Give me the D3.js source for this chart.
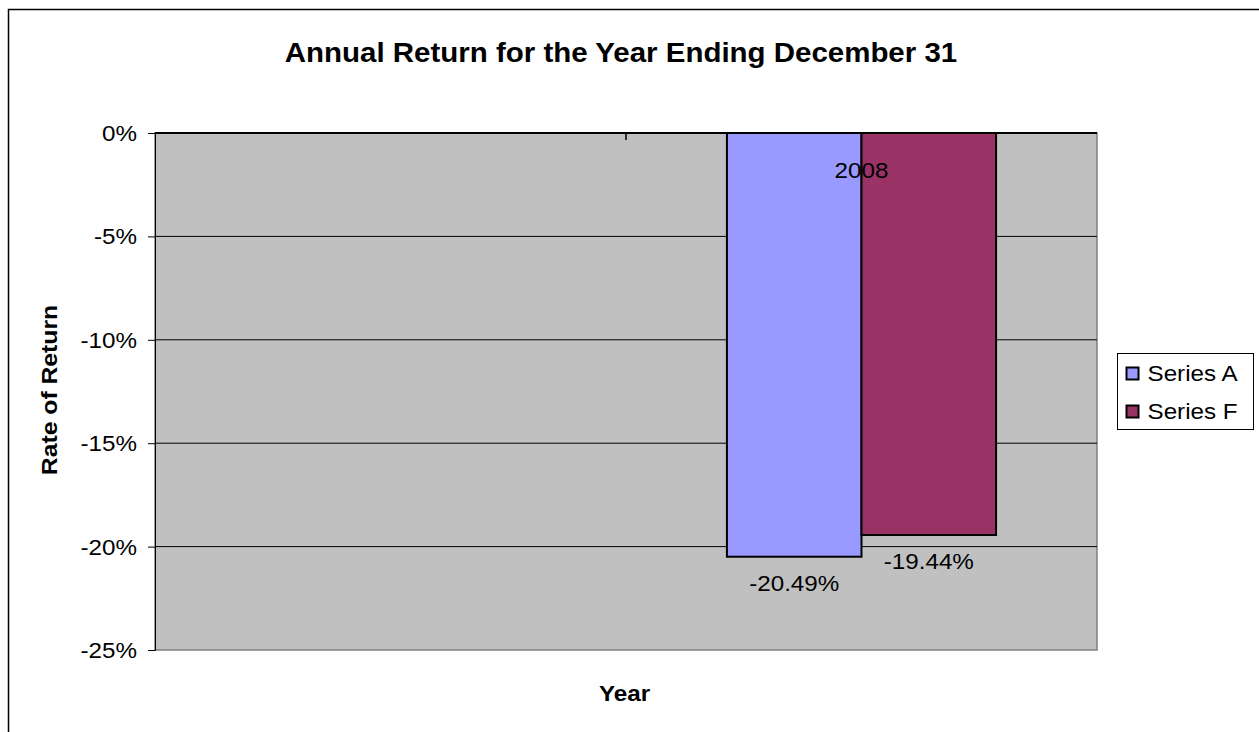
<!DOCTYPE html>
<html>
<head>
<meta charset="utf-8">
<script src="https://cdn.jsdelivr.net/npm/d3@7"></script>
<style>
  body { margin: 0; background: #fff; }
  text { font-family: "Liberation Sans", Arial, sans-serif; fill: #000; }
</style>
</head>
<body>
<script>
// chart data
const categories = ["", "2008"];
const seriesNames = ["Series A", "Series F"];
const seriesColors = ["#9999ff", "#993366"];
const seriesA = [null, -20.49];
const seriesF = [null, -19.44];
const yTicks = [0, -5, -10, -15, -20, -25];

const width = 1259, height = 732;
const plot = {left: 155, top: 133, right: 1097, bottom: 650};
const sx = 1.1; // text in the original is a bit stretched sideways

const svg = d3.select("body").append("svg")
    .attr("width", width)
    .attr("height", height);

svg.append("rect").attr("width", width).attr("height", height).attr("fill", "#fff");

// outer chart border (only top and left visible)
svg.append("rect")
    .attr("x", 8.5).attr("y", 9.5)
    .attr("width", width + 20).attr("height", height + 20)
    .attr("fill", "none").attr("stroke", "#000").attr("stroke-width", 1.5);

const x0 = d3.scaleBand().domain(categories).range([plot.left, plot.right]);
// gap width 150% -> bars take 2/3.5 of the band
const gap = x0.bandwidth() * 1.5 / 3.5;
const x1 = d3.scaleBand().domain(seriesNames).range([gap / 2, x0.bandwidth() - gap / 2]);
const y = d3.scaleLinear().domain([0, -25]).range([plot.top, plot.bottom]);

function stretchText(g, x, yy, str, size, weight, anchor) {
    return g.append("text")
        .attr("transform", `translate(${x},${yy}) scale(${sx},1)`)
        .attr("text-anchor", anchor || "middle")
        .attr("font-size", size)
        .attr("font-weight", weight || "normal")
        .text(str);
}

// plot area
svg.append("rect")
    .attr("x", plot.left).attr("y", plot.top)
    .attr("width", plot.right - plot.left).attr("height", plot.bottom - plot.top)
    .attr("fill", "#c0c0c0").attr("stroke", "#808080").attr("stroke-width", 1.5);

// gridlines
svg.append("g").selectAll("line")
    .data(yTicks.slice(1, -1))
    .join("line")
    .attr("x1", plot.left).attr("x2", plot.right)
    .attr("y1", d => y(d)).attr("y2", d => y(d))
    .attr("stroke", "#000").attr("stroke-width", 1);

// y axis
const yAxis = svg.append("g")
    .attr("transform", `translate(${plot.left},0)`)
    .call(d3.axisLeft(y).tickValues(yTicks).tickSize(7).tickFormat(""));
yAxis.select(".domain").attr("stroke", "#000");
yAxis.selectAll(".tick line").attr("stroke", "#000");
yAxis.selectAll(".tick").each(function (d) {
    stretchText(d3.select(this), -18, 7.5, d + "%", 22, "normal", "end");
});

// bars
const barData = [];
categories.forEach((c, i) => {
    [seriesA, seriesF].forEach((s, j) => {
        if (s[i] !== null) barData.push({cat: c, name: seriesNames[j], value: s[i], color: seriesColors[j]});
    });
});

svg.append("g").selectAll("rect")
    .data(barData)
    .join("rect")
    .attr("x", d => x0(d.cat) + x1(d.name))
    .attr("y", y(0))
    .attr("width", x1.bandwidth())
    .attr("height", d => y(d.value) - y(0))
    .attr("fill", d => d.color)
    .attr("stroke", "#000").attr("stroke-width", 2);

// category axis along 0%
svg.append("line")
    .attr("x1", plot.left).attr("x2", plot.right)
    .attr("y1", y(0)).attr("y2", y(0))
    .attr("stroke", "#000").attr("stroke-width", 2);
svg.append("g").selectAll("line")
    .data(categories.slice(1))
    .join("line")
    .attr("x1", d => x0(d)).attr("x2", d => x0(d))
    .attr("y1", y(0)).attr("y2", y(0) + 7)
    .attr("stroke", "#000").attr("stroke-width", 1.5);

// category labels
categories.forEach(c => {
    if (c) stretchText(svg, x0(c) + x0.bandwidth() / 2, y(0) + 45, c, 22);
});

// data labels
barData.forEach(d => {
    stretchText(svg, x0(d.cat) + x1(d.name) + x1.bandwidth() / 2, y(d.value) + 34, d.value.toFixed(2) + "%", 22);
});

// titles
stretchText(svg, 621, 62, "Annual Return for the Year Ending December 31", 26.8, "bold");
stretchText(svg, 624.5, 701, "Year", 22, "bold");
svg.append("text")
    .attr("transform", `translate(57,390) rotate(-90) scale(${sx},1)`)
    .attr("text-anchor", "middle")
    .attr("font-size", 22.5)
    .attr("font-weight", "bold")
    .text("Rate of Return");

// legend
const legend = svg.append("g").attr("transform", "translate(1117.5,353.5)");
legend.append("rect").attr("width", 136).attr("height", 76)
    .attr("fill", "#fff").attr("stroke", "#000").attr("stroke-width", 1);
seriesNames.forEach((n, i) => {
    const row = legend.append("g").attr("transform", `translate(0,${20 + i * 38})`);
    row.append("rect").attr("x", 9).attr("y", -6).attr("width", 12).attr("height", 12)
        .attr("fill", seriesColors[i]).attr("stroke", "#000").attr("stroke-width", 2);
    stretchText(row, 30, 7.5, n, 22, "normal", "start");
});
</script>
</body>
</html>
